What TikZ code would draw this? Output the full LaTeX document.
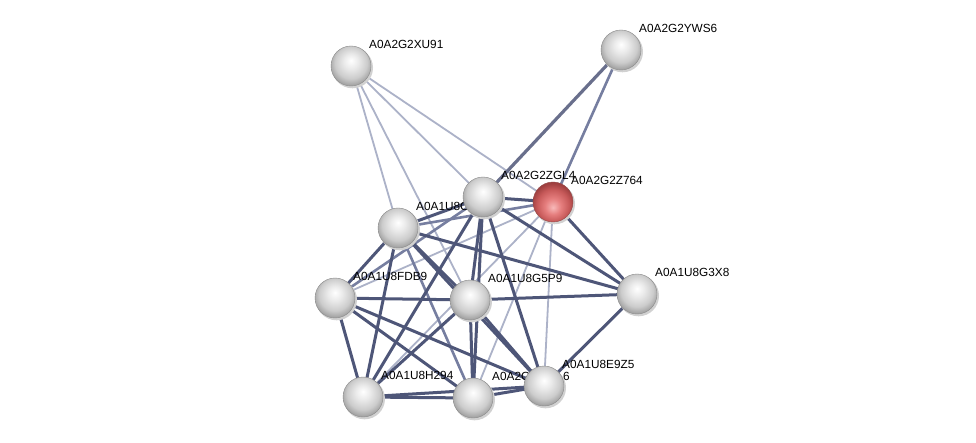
\documentclass[tikz,border=0pt]{standalone}
\usepackage{fontspec}
\setmainfont{Liberation Sans}
\usetikzlibrary{calc}
\definecolor{edark}{RGB}{78,86,120}
\definecolor{emed}{RGB}{118,126,160}
\definecolor{elight}{RGB}{172,178,200}
\pgfdeclareradialshading{sphgray}{\pgfpoint{0bp}{7bp}}{%
  color(0bp)=(white); color(9bp)=(white!92!black); color(20bp)=(white!80!black);
  color(27bp)=(white!64!black); color(50bp)=(white!64!black)}
\pgfdeclareradialshading{sphred}{\pgfpoint{0bp}{-7bp}}{%
  color(0bp)=(red!25!white!97!black); color(10bp)=(red!45!white!90!black); color(20bp)=(red!55!white!78!black);
  color(27bp)=(red!60!white!62!black); color(50bp)=(red!60!white!62!black)}
\tikzset{
  ball/.style={circle, minimum size=40pt, inner sep=0pt, shading=sphgray, draw=white!55!black, line width=0.4pt},
  redball/.style={circle, minimum size=40pt, inner sep=0pt, shading=sphred, draw=red!40!black!70, line width=0.4pt},
  shadowc/.style={circle, minimum size=41pt, inner sep=0pt, fill=black!18},
  lbl/.style={anchor=base west, inner sep=0pt, font=\fontsize{11.8}{14}\selectfont, text=black},
  ld/.style={draw=edark, line width=3pt},
  lm/.style={draw=emed, line width=2.6pt},
  ll/.style={draw=elight, line width=1.8pt},
}
\begin{document}
\begin{tikzpicture}[x=1pt,y=-1pt]
\path[use as bounding box, fill=white] (0,0) rectangle (976,443);
% node positions
\coordinate (A) at (351,66);
\coordinate (B) at (621,50);
\coordinate (C) at (483,197);
\coordinate (D) at (553,202);
\coordinate (E) at (398,228);
\coordinate (F) at (335,298);
\coordinate (G) at (470,300);
\coordinate (H) at (637,294);
\coordinate (I) at (363,397);
\coordinate (J) at (473,398);
\coordinate (K) at (544,386);
% light edges
\foreach \a/\b in {A/E,A/G,A/C,A/D,D/K,D/I,D/J,D/F}
  \draw[ll] (\a) -- (\b);
% medium edges
\foreach \a/\b in {B/D,D/E,C/F,E/J}
  \draw[lm] (\a) -- (\b);
% dark edges
\draw[draw=edark!85!white, line width=3.2pt] (B) -- (C);
\foreach \a/\b in {C/D,C/E,C/G,C/J,C/H,C/K,C/I,D/H,E/F,E/G,E/H,E/I,E/K,F/G,F/I,F/J,F/K,G/H,G/I,G/J,G/K,H/K,I/J,I/K,J/K}
  \draw[ld] (\a) -- (\b);
% nodes and labels
\foreach \p in {A,B,D,E,C,F,G,H,I,J,K}
  \node[shadowc] at ($(\p)+(1.5,1.8)$) {};
\node[ball] (nA) at (A) {};
\node[lbl] (tA) at (369,48.5) {A0A2G2XU91};
\node[ball] (nB) at (B) {};
\node[lbl] (tB) at (639,32.5) {A0A2G2YWS6};
\node[redball] (nD) at (D) {};
\node[lbl] (tD) at (571,184.5) {A0A2G2Z764};
\node[ball] (nE) at (E) {};
\node[lbl] (tE) at (416,210.5) {A0A1U8C};
\node[ball] (nC) at (C) {};
\node[lbl] (tC) at (501,179.5) {A0A2G2ZGL4};
\node[ball] (nF) at (F) {};
\node[lbl] (tF) at (353,280.5) {A0A1U8FDB9};
\node[ball] (nG) at (G) {};
\node[lbl] (tG) at (488,282.5) {A0A1U8G5P9};
\node[ball] (nH) at (H) {};
\node[lbl] (tH) at (655,276.5) {A0A1U8G3X8};
\node[ball] (nI) at (I) {};
\node[lbl] (tI) at (381,379.5) {A0A1U8H294};
\node[ball] (nJ) at (J) {};
\node[lbl] (tJ) at (492,380.5) {A0A2G\phantom{22222}6};
\node[ball] (nK) at (K) {};
\node[lbl] (tK) at (562,368.5) {A0A1U8E9Z5};
\end{tikzpicture}
\end{document}
